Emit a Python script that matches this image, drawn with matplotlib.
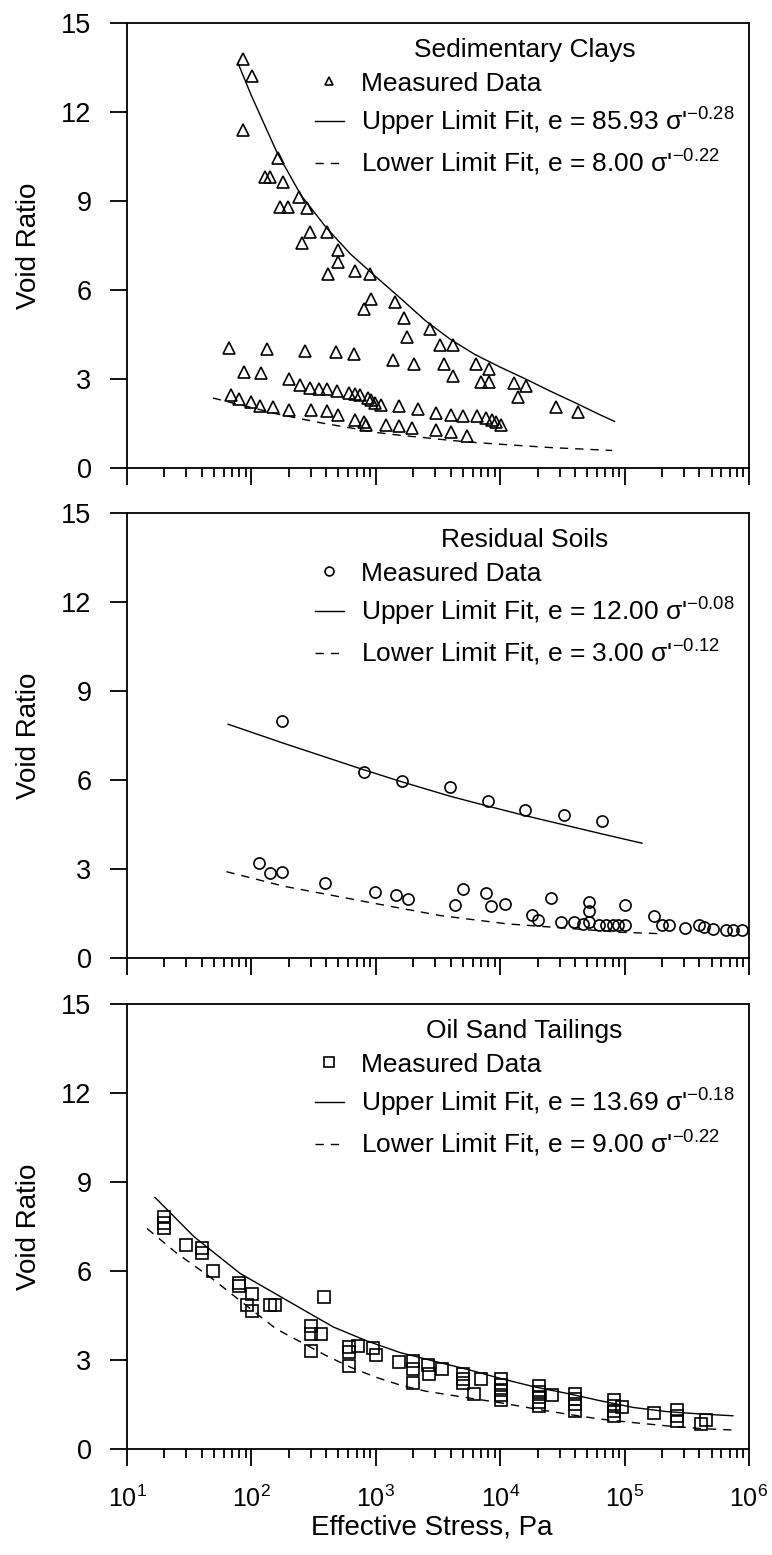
import numpy as np
import matplotlib.pyplot as plt
from matplotlib.ticker import LogLocator, NullFormatter

plt.rcParams['font.family'] = ['Liberation Sans', 'DejaVu Sans']
plt.rcParams['mathtext.default'] = 'regular'

# ---- Sedimentary clays (triangles) ----
sed_sigma = [85, 102, 85, 163, 128, 141, 179, 170, 197, 243, 279, 294, 253, 409, 499, 499,
             416, 684, 890, 912, 805, 1420, 1700, 1770, 2750, 3300, 4160, 2040, 3520, 4160,
             6400, 8060, 6950, 8060, 12900, 16200, 14000, 27900, 42300,
             66, 134, 270, 479, 672, 1380,
             88, 120,
             201, 246, 298, 347, 409, 491, 604, 684, 743, 861, 912, 991, 1104, 1524, 2177,
             3034, 3989, 4989, 6503, 7679, 8550, 9290, 10090,
             69, 79, 100, 118, 150, 202, 303, 405, 499, 684, 806, 840, 1199, 1525, 1972,
             3034, 3989, 5420]
sed_e = [13.8, 13.2, 11.4, 10.45, 9.8, 9.8, 9.65, 8.8, 8.8, 9.15, 8.75, 7.95, 7.6, 7.95, 7.35, 6.95,
         6.55, 6.65, 6.55, 5.7, 5.35, 5.6, 5.05, 4.4, 4.7, 4.15, 4.15, 3.5, 3.5, 3.1,
         3.5, 3.35, 2.9, 2.9, 2.85, 2.75, 2.4, 2.05, 1.9,
         4.05, 4.0, 3.95, 3.9, 3.85, 3.65,
         3.25, 3.2,
         3.0, 2.81, 2.69, 2.66, 2.66, 2.61, 2.53, 2.49, 2.47, 2.36, 2.3, 2.19, 2.13, 2.1, 1.99,
         1.87, 1.8, 1.74, 1.74, 1.68, 1.63, 1.54, 1.46,
         2.47, 2.32, 2.24, 2.1, 2.05, 1.94, 1.94, 1.91, 1.8, 1.63, 1.54, 1.46, 1.46, 1.4, 1.35,
         1.29, 1.2, 1.07]
sed_up_sigma = [78, 100, 160, 250, 400, 630, 1000, 1600, 2500, 4000, 6300, 10000, 16000,
                25000, 40000, 63000, 83000]
sed_up_e = [13.65, 12.55, 10.65, 9.2, 8.1, 7.2, 6.45, 5.7, 4.97, 4.33, 3.82, 3.4, 3.0,
            2.6, 2.2, 1.8, 1.57]
sed_lo_sigma = [49, 71, 100, 158, 269, 398, 631, 1000, 1585, 2512, 3981, 6310, 10000, 25120, 79430]
sed_lo_e = [2.36, 2.19, 2.04, 1.83, 1.63, 1.49, 1.35, 1.2, 1.1, 1.02, 0.93, 0.86, 0.8, 0.69, 0.59]

# ---- Residual soils (circles) ----
res_sigma = [177, 805, 1630, 3953, 8000, 15900, 32700, 66100,
             115, 142, 177, 389, 991, 1440, 1815, 4335, 4990, 7730, 8400, 10960, 18000, 20000,
             25500, 30800, 39500, 46700, 52000, 52000, 52000, 62400, 70700, 80000, 89100,
             100000, 100000, 172700, 199000, 229000, 308000, 395000, 437000, 515000, 650000,
             748000, 883000]
res_e = [7.99, 6.26, 5.98, 5.78, 5.3, 5.0, 4.83, 4.63,
         3.21, 2.87, 2.89, 2.53, 2.22, 2.11, 2.0, 1.77, 2.31, 2.19, 1.75, 1.83, 1.46, 1.27,
         2.02, 1.21, 1.21, 1.15, 1.88, 1.6, 1.23, 1.12, 1.12, 1.12, 1.12,
         1.77, 1.12, 1.41, 1.1, 1.1, 1.02, 1.1, 1.04, 0.99, 0.93,
         0.93, 0.93]
res_up_sigma = [65, 178, 794, 1585, 3981, 7943, 15850, 31620, 66070, 138000]
res_up_e = [7.88, 7.25, 6.35, 5.95, 5.45, 5.12, 4.8, 4.5, 4.18, 3.87]
res_lo_sigma = [63, 182, 950, 3300, 11400, 26100, 90600, 191000]
res_lo_e = [2.91, 2.42, 1.85, 1.43, 1.15, 1.04, 0.87, 0.82]

# ---- Oil sand tailings (squares) ----
ost_sigma = [20, 20, 20, 30, 40, 40, 49, 79, 79, 92, 102, 102, 142, 154, 383,
             299, 299, 299, 361, 604, 604, 604, 724, 951, 996, 1538, 2005, 2005, 2005,
             2614, 2680, 3436, 4988, 4988, 4988, 6137, 6950,
             10090, 10090, 10090, 10090, 10090,
             20370, 20370, 20370, 20370, 20370, 26120,
             40200, 40200, 40200, 40200,
             82000, 82000, 82000, 82000, 94500, 172600, 265000, 265000, 265000, 409000, 455000]
ost_e = [7.83, 7.63, 7.45, 6.86, 6.76, 6.6, 6.0, 5.61, 5.49, 4.86, 5.22, 4.66, 4.86, 4.84, 5.14,
         4.15, 3.89, 3.32, 3.87, 3.44, 3.27, 2.8, 3.48, 3.42, 3.18, 2.94, 2.97, 2.68, 2.21,
         2.82, 2.53, 2.68, 2.53, 2.35, 2.21, 1.87, 2.37,
         2.35, 2.17, 1.99, 1.81, 1.66,
         2.11, 1.93, 1.76, 1.58, 1.46, 1.81,
         1.87, 1.7, 1.52, 1.28,
         1.64, 1.46, 1.28, 1.1, 1.4, 1.22, 1.3, 1.1, 0.93, 0.83, 0.98]
ost_up_sigma = [16.8, 34.7, 81, 158, 245, 457, 851, 1567, 2884, 5370, 10000, 18620, 33900,
                63100, 117500, 218800, 407400, 741300]
ost_up_e = [8.48, 7.15, 5.92, 5.22, 4.76, 4.11, 3.64, 3.25, 2.97, 2.69, 2.38, 2.1, 1.88,
            1.63, 1.4, 1.26, 1.18, 1.12]
ost_lo_sigma = [14.5, 25.1, 46.8, 100, 158, 251, 398, 631, 1000, 1585, 2512, 5012, 10000,
                18620, 33900, 63100, 117500, 218800, 407400, 724400]
ost_lo_e = [7.43, 6.6, 5.79, 4.7, 4.05, 3.6, 3.15, 2.75, 2.42, 2.15, 1.95, 1.75, 1.56,
            1.36, 1.18, 1.01, 0.89, 0.78, 0.69, 0.64]

panels = [
    ('Sedimentary Clays', '^', sed_sigma, sed_e, sed_up_sigma, sed_up_e, sed_lo_sigma, sed_lo_e,
     'Upper Limit Fit, e = 85.93 σ\'$^{-0.28}$', 'Lower Limit Fit, e = 8.00 σ\'$^{-0.22}$'),
    ('Residual Soils', 'o', res_sigma, res_e, res_up_sigma, res_up_e, res_lo_sigma, res_lo_e,
     'Upper Limit Fit, e = 12.00 σ\'$^{-0.08}$', 'Lower Limit Fit, e = 3.00 σ\'$^{-0.12}$'),
    ('Oil Sand Tailings', 's', ost_sigma, ost_e, ost_up_sigma, ost_up_e, ost_lo_sigma, ost_lo_e,
     'Upper Limit Fit, e = 13.69 σ\'$^{-0.18}$', 'Lower Limit Fit, e = 9.00 σ\'$^{-0.22}$'),
]

fig = plt.figure(figsize=(7.72, 15.55), dpi=100)
left, width, height = 127 / 772, 622 / 772, 445 / 1555
bottoms = [1 - 468 / 1555, 1 - 958 / 1555, 1 - 1449 / 1555]

for i, (title, mk, xs, ys, ux, uy, lx, ly, ulab, llab) in enumerate(panels):
    ax = fig.add_axes([left, bottoms[i], width, height])
    ms = 8 if mk != 's' else 8.5
    ax.plot(xs, ys, linestyle='none', marker=mk, ms=ms, mfc='none', mec='black', mew=1.2,
            label='Measured Data')
    ax.plot(ux, uy, color='black', lw=1.0, label=ulab)
    ax.plot(lx, ly, color='black', lw=1.0, ls=(0, (6, 5)), label=llab)

    ax.set_xscale('log')
    ax.set_xlim(10, 1e6)
    ax.set_ylim(0, 15)
    ax.set_yticks(np.arange(0, 16, 3))
    ax.xaxis.set_major_locator(LogLocator(base=10, numticks=10))
    ax.xaxis.set_minor_locator(LogLocator(base=10, subs=np.arange(2, 10), numticks=10))
    ax.xaxis.set_minor_formatter(NullFormatter())
    ax.tick_params(which='major', direction='out', length=12.5, width=1.3)
    ax.tick_params(which='minor', direction='out', length=6.5, width=1.3)
    ax.tick_params(axis='y', labelsize=19.5, pad=13)
    ax.tick_params(axis='x', labelsize=18, pad=14)
    for s in ax.spines.values():
        s.set_linewidth(1.3)
    if i < 2:
        ax.tick_params(axis='x', labelbottom=False)
    else:
        ax.set_xlabel('Effective Stress, Pa', fontsize=20)
        ax.xaxis.set_label_coords(0.49, -0.148)
    ax.set_ylabel('Void Ratio', fontsize=20)
    ax.yaxis.set_label_coords(-0.136, 0.5)

    leg = ax.legend(title=title, loc='upper right', frameon=False, fontsize=19,
                    title_fontsize=19, handlelength=1.1, handletextpad=0.65,
                    labelspacing=0.38, borderaxespad=0.15, markerscale=0.8)

fig.savefig('out.png', dpi=100)
